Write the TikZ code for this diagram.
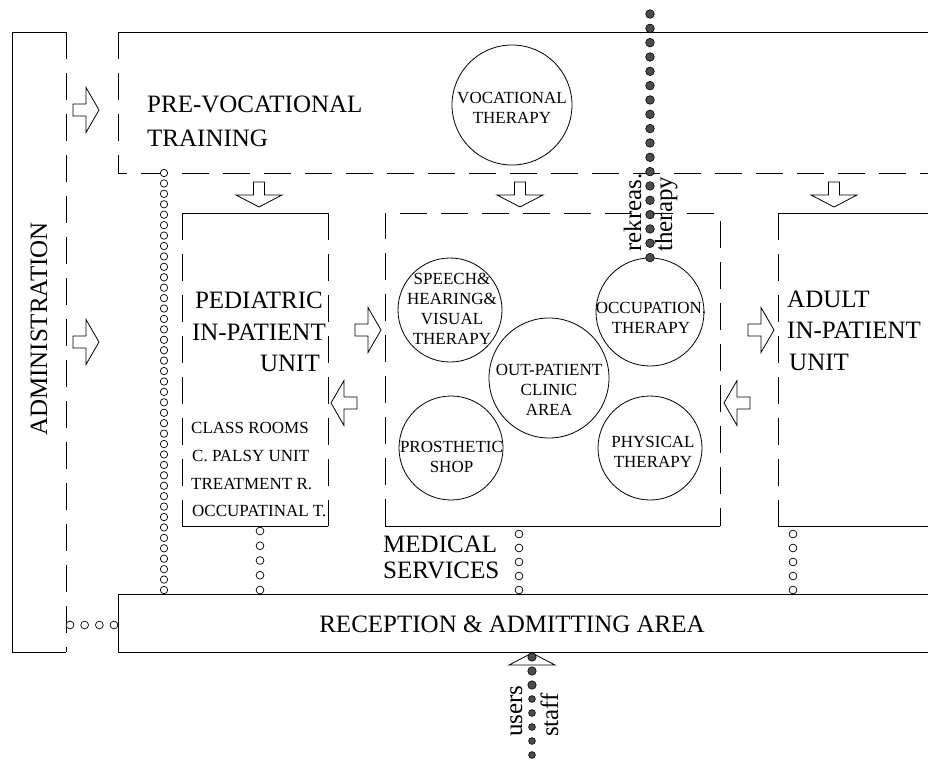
\documentclass[tikz,border=0pt]{standalone}
\usepackage{fontspec}
\setmainfont{Liberation Serif}
\usetikzlibrary{calc}
\begin{document}
\begin{tikzpicture}[x=1pt,y=-1pt,
  wall/.style={line width=0.9pt, draw=black},
  dashwall/.style={wall, dash pattern=on 27pt off 14pt},
  room/.style={circle, draw=black, line width=0.8pt, minimum size=#1, inner sep=0pt},
  big/.style={font=\fontsize{25}{31}\selectfont, inner sep=0pt},
  small/.style={font=\fontsize{17}{20}\selectfont, inner sep=0pt},
  ctext/.style={font=\fontsize{17}{20}\selectfont, inner sep=0pt, align=center},
  hollow/.style={draw=black, fill=white, line width=0.7pt},
  filled dot/.style={draw=black, fill=black!70, line width=0.6pt},
  flowarrow/.style={draw=black, fill=white, line width=0.8pt, line join=miter},
  rarrow/.pic={\path[flowarrow] (0,0) -- (-13,-22.5) -- (-13,-6) -- (-26,-6)
      -- (-26,6) -- (-13,6) -- (-13,22.5) -- cycle;},
  larrow/.pic={\path[flowarrow] (0,0) -- (13,-22.5) -- (13,-6) -- (26,-6)
      -- (26,6) -- (13,6) -- (13,22.5) -- cycle;},
  darrow/.pic={\path[flowarrow] (0,0) -- (23,-12) -- (5.5,-12) -- (5.5,-25)
      -- (-5.5,-25) -- (-5.5,-12) -- (-23,-12) -- cycle;}
]
\useasboundingbox (0,0) rectangle (928,762);

% ---- walls of the zones ----
% administration
\draw[wall] (66,32) -- (12,32) -- (12,652) -- (66,652);
\draw[dashwall] (66,32) -- (66,652);
% pre-vocational training
\draw[wall] (118,32) -- (928,32);
\draw[dashwall] (118,32) -- (118,173) -- (928,173);
% pediatric in-patient unit
\draw[wall] (182,213) -- (328,213);
\draw[wall] (182,526) -- (328,526);
\draw[dashwall] (182,213) -- (182,526);
\draw[dashwall] (328,213) -- (328,526);
% medical services
\draw[dashwall] (385,526) -- (385,213) -- (720,213) -- (720,526);
\draw[wall] (385,526) -- (720,526);
% adult in-patient unit
\draw[wall] (928,213) -- (778,213);
\draw[dashwall] (778,213) -- (778,526);
\draw[wall] (778,526) -- (928,526);
% reception
\draw[wall] (928,594) -- (118,594) -- (118,652) -- (928,652);

% ---- zone labels ----
\node[big, rotate=90, anchor=base] (admin) at (47,329) {ADMINISTRATION};
\node[big, anchor=base west] (pv1) at (147,113) {PRE-VOCATIONAL};
\node[big, anchor=base west] (pv2) at (147,147) {TRAINING};
\node[big, anchor=base east] (pd1) at (323,308) {PEDIATRIC};
\node[big, anchor=base east] (pd2) at (326,340) {IN-PATIENT};
\node[big, anchor=base east] (pd3) at (320,371) {UNIT};
\node[small, anchor=base west] (pl1) at (191,433) {CLASS ROOMS};
\node[small, anchor=base west] (pl2) at (192,461) {C. PALSY UNIT};
\node[small, anchor=base west] (pl3) at (191,489) {TREATMENT R.};
\node[small, anchor=base west] (pl4) at (192,516) {OCCUPATINAL T.};
\node[big, anchor=base west] (ad1) at (787,307) {ADULT};
\node[big, anchor=base west] (ad2) at (787,338) {IN-PATIENT};
\node[big, anchor=base west] (ad3) at (789,370) {UNIT};
\node[big, anchor=base west] (ms1) at (383,552) {MEDICAL};
\node[big, anchor=base west] (ms2) at (383,578) {SERVICES};
\node[big, anchor=base] (rec) at (512,632) {RECEPTION \& ADMITTING AREA};

% ---- therapy rooms ----
\node[room=120] (voc) at (512,105) {};
\node[ctext] (voct) at (512,107.5) {VOCATIONAL\\THERAPY};
\node[room=104] (spe) at (450,310) {};
\node[ctext] (spet) at (452,309) {SPEECH\&\\HEARING\&\\VISUAL\\THERAPY};
\node[room=120] (opc) at (549,378) {};
\node[ctext] (opct) at (549,389.5) {OUT-PATIENT\\CLINIC\\AREA};
\node[room=104] (pro) at (451,448) {};
\node[ctext] (prot) at (451.5,456.5) {PROSTHETIC\\SHOP};
\node[room=108] (occ) at (650,312) {};
\node[ctext] (occt) at (651,317.5) {OCCUPATION.\\THERAPY};
\node[room=104] (phy) at (650,448) {};
\node[ctext] (phyt) at (653,451.5) {PHYSICAL\\THERAPY};

% ---- flow arrows ----
\pic at (99,110) {rarrow};
\pic at (99,342) {rarrow};
\pic at (381,330) {rarrow};
\pic at (774,330) {rarrow};
\pic at (331,403) {larrow};
\pic at (724,403) {larrow};
\pic at (259,207) {darrow};
\pic at (520,207) {darrow};
\pic at (834,207) {darrow};

% ---- internal links (hollow dots) ----
\coordinate (pvL) at (164,173);
\coordinate (recL) at (164,590);
\foreach \k in {0,...,40} \path[hollow] ($(pvL)!\k/40!(recL)$) circle (3.7);
\coordinate (pdB) at (260,531);
\coordinate (recP) at (260,590);
\foreach \k in {0,...,4} \path[hollow] ($(pdB)!\k/4!(recP)$) circle (3.9);
\coordinate (msB) at (519,534);
\coordinate (recM) at (519,590);
\foreach \k in {0,...,4} \path[hollow] ($(msB)!\k/4!(recM)$) circle (3.9);
\coordinate (adB) at (793,534);
\coordinate (recA) at (793,590);
\foreach \k in {0,...,4} \path[hollow] ($(adB)!\k/4!(recA)$) circle (3.9);
\coordinate (admR) at (70,625);
\coordinate (recW) at (114,625);
\foreach \k in {0,...,3} \path[hollow] ($(admR)!\k/3!(recW)$) circle (3.9);

% ---- entrance from outside ----
\draw[line width=0.8pt] (532,653) -- (509,665) -- (555,665) -- cycle;
\coordinate (entry) at (532,657);
\coordinate (street) at (532,755);
\foreach \k in {0,...,7}{
  \pgfmathsetmacro\rr{ifthenelse(\k<3,4.2,3.4)}
  \path[filled dot] ($(entry)!\k/7!(street)$) circle (\rr);
}
\node[big, rotate=90, anchor=base west] (users) at (522,737) {users};
\node[big, rotate=90, anchor=base west] (staff) at (558,737) {staff};

% ---- recreation therapy route ----
\coordinate (rtop) at (650,14);
\foreach \k in {0,...,17} \path[filled dot] ($(rtop)!\k/17!(occ.north)$) circle (4.3);
\node[big, rotate=90, anchor=base west] (rek) at (641,252) {rekreas.};
\node[big, rotate=90, anchor=base west] (ther) at (672,252) {therapy};
\end{tikzpicture}
\end{document}
